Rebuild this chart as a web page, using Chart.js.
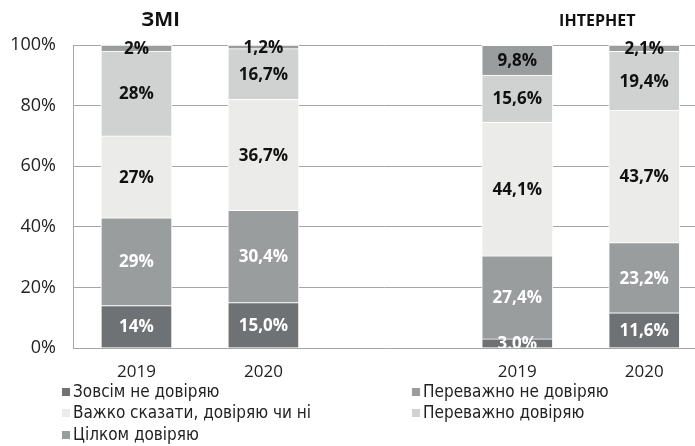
<!DOCTYPE html>
<html>
<head>
<meta charset="utf-8">
<script src="https://cdn.jsdelivr.net/npm/chart.js@4.4.0/dist/chart.umd.min.js"></script>
<style>
  html, body { margin: 0; padding: 0; background: #fff; overflow: hidden; }
  #wrap { width: 695px; height: 446px; }
</style>
</head>
<body>
<div id="wrap"><canvas id="chart"></canvas></div>
<script>
// DATOS
const groupTitles = ['ЗМІ', 'ІНТЕРНЕТ'];
const barLabels = ['2019', '2020', '2019', '2020'];
const barSlots = [0, 1, 3, 4];
const barDecimals = [0, 1, 1, 1];

const seriesNames = [
  'Зовсім не довіряю',
  'Переважно не довіряю',
  'Важко сказати, довіряю чи ні',
  'Переважно довіряю',
  'Цілком довіряю'
];
const notAtAll = [14, 15.0, 3.0, 11.6];
const mostlyNot = [29, 30.4, 27.4, 23.2];
const hardToSay = [27, 36.7, 44.1, 43.7];
const mostlyTrust = [28, 16.7, 15.6, 19.4];
const fullyTrust = [2, 1.2, 9.8, 2.1];

const yTicks = [0, 20, 40, 60, 80, 100];

// ESTILOS
const fills = ['#6f7274', '#9a9d9e', '#ebebea', '#d0d1d1', '#9a9d9e'];
const textColors = ['#ffffff', '#ffffff', '#111111', '#111111', '#111111'];
const FONT = '"Open Sans", sans-serif';
const NARROW = '"Liberation Sans Narrow", "DejaVu Sans Condensed", "Open Sans", sans-serif';

const seriesValues = [notAtAll, mostlyNot, hardToSay, mostlyTrust, fullyTrust];

const datasets = seriesValues.map((vals, i) => ({
  label: seriesNames[i],
  data: vals.map((v, j) => ({ x: barSlots[j], y: v })),
  backgroundColor: fills[i],
  borderColor: '#ffffff',
  borderWidth: 1,
  barThickness: 71
}));

// ETIQUETAS DE VALOR
const valueLabels = {
  id: 'valueLabels',
  afterDatasetsDraw(chart) {
    const ctx = chart.ctx;
    const area = chart.chartArea;
    ctx.save();
    ctx.beginPath();
    ctx.rect(area.left, area.top - 10, area.right - area.left, area.bottom - area.top + 10);
    ctx.clip();
    ctx.font = 'bold 17px ' + FONT;
    ctx.textAlign = 'center';
    ctx.textBaseline = 'middle';
    chart.data.datasets.forEach((ds, i) => {
      const meta = chart.getDatasetMeta(i);
      meta.data.forEach((bar, j) => {
        const v = seriesValues[i][j];
        const txt = v.toFixed(barDecimals[j]).replace('.', ',') + '%';
        const mid = (bar.y + bar.base) / 2;
        ctx.fillStyle = textColors[i];
        ctx.fillText(txt, bar.x, mid + 1);
      });
    });
    ctx.restore();
  }
};

// TÍTULOS Y LEYENDA
const extras = {
  id: 'extras',
  afterDraw(chart) {
    const ctx = chart.ctx;
    const xs = chart.scales.x;
    const area = chart.chartArea;
    ctx.save();
    ctx.fillStyle = '#111';
    ctx.textAlign = 'center';
    ctx.textBaseline = 'middle';
    ctx.font = 'bold 20px ' + FONT;
    ctx.fillText(groupTitles[0], xs.getPixelForValue(0.19), 20);
    ctx.font = 'bold 16px ' + FONT;
    ctx.fillText(groupTitles[1], xs.getPixelForValue(3.63), 21);

    // leyenda en dos columnas
    ctx.textAlign = 'left';
    ctx.font = '17px ' + NARROW;
    const cols = [62, 412];
    const rows = [area.bottom + 44, area.bottom + 65, area.bottom + 87];
    seriesNames.forEach((name, i) => {
      const cx = cols[i % 2];
      const cy = rows[Math.floor(i / 2)];
      ctx.fillStyle = fills[i];
      ctx.fillRect(cx, cy - 4, 8, 8);
      ctx.fillStyle = '#222';
      ctx.fillText(name, cx + 11, cy + 1);
    });
    ctx.restore();
  }
};

new Chart(document.getElementById('chart'), {
  type: 'bar',
  data: { datasets: datasets },
  options: {
    responsive: true,
    maintainAspectRatio: false,
    animation: false,
    layout: { padding: { top: 45, right: 0, left: 0, bottom: 0 } },
    plugins: {
      legend: { display: false },
      tooltip: { enabled: false }
    },
    scales: {
      x: {
        type: 'linear',
        stacked: true,
        offset: false,
        min: -0.5,
        max: 4.4,
        afterBuildTicks: s => { s.ticks = barSlots.map(v => ({ value: v })); },
        afterFit: s => { s.height = 98; },
        ticks: {
          autoSkip: false,
          maxRotation: 0,
          padding: 14,
          color: '#222',
          font: { family: FONT, size: 17 },
          callback: (v) => barLabels[barSlots.indexOf(v)]
        },
        grid: { display: false, drawTicks: false, offset: false },
        border: { display: true, color: '#a6a6a6' }
      },
      y: {
        stacked: true,
        min: 0,
        max: 100,
        afterBuildTicks: s => { s.ticks = yTicks.map(v => ({ value: v })); },
        afterFit: s => { s.width = 73; },
        ticks: {
          padding: 17,
          color: '#222',
          font: { family: FONT, size: 18 },
          callback: v => v + '%'
        },
        grid: { color: '#a6a6a6', drawTicks: false },
        border: { display: true, color: '#a6a6a6' }
      }
    }
  },
  plugins: [valueLabels, extras]
});
</script>
</body>
</html>
